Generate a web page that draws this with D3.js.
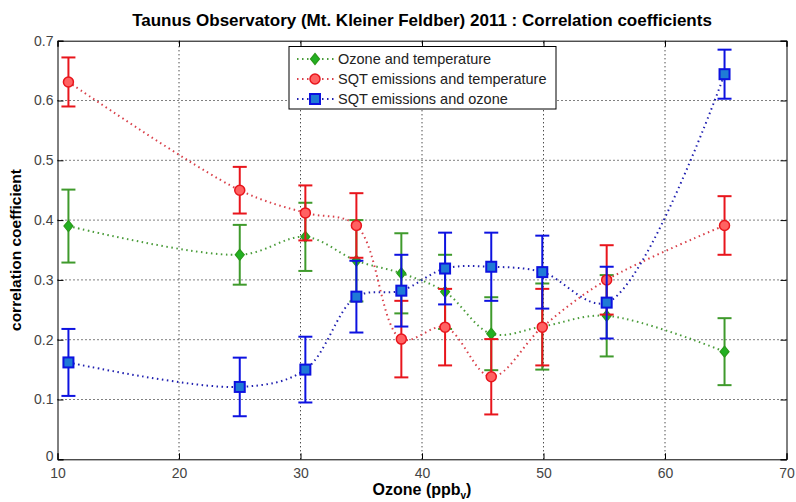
<!DOCTYPE html>
<html>
<head>
<meta charset="utf-8">
<script src="https://cdn.jsdelivr.net/npm/d3@7"></script>
<style>
  body { margin: 0; background: #fff; }
  text { font-family: Arial, "Liberation Sans", sans-serif; }
</style>
</head>
<body>
<script>
// data
var ozone = [10.9, 25.0, 30.4, 34.6, 38.3, 41.9, 45.7, 49.9, 55.2, 64.9];

var ozTemp    = [0.390, 0.342, 0.372, 0.332, 0.311, 0.280, 0.210, 0.222, 0.240, 0.180];
var ozTempErr = [0.061, 0.050, 0.057, 0.068, 0.067, 0.062, 0.061, 0.072, 0.068, 0.056];

var sqtTemp    = [0.631, 0.450, 0.412, 0.391, 0.201, 0.221, 0.138, 0.221, 0.300, 0.391];
var sqtTempErr = [0.041, 0.039, 0.046, 0.054, 0.064, 0.064, 0.063, 0.064, 0.058, 0.049];

var sqtOz    = [0.162, 0.121, 0.150, 0.272, 0.282, 0.319, 0.322, 0.313, 0.262, 0.644];
var sqtOzErr = [0.056, 0.049, 0.055, 0.060, 0.060, 0.060, 0.057, 0.061, 0.060, 0.041];

var xTicks = [10, 20, 30, 40, 50, 60, 70];
var yTicks = [0, 0.1, 0.2, 0.3, 0.4, 0.5, 0.6, 0.7];

var seriesNames = ["Ozone and temperature", "SQT emissions and temperature", "SQT emissions and ozone"];

var series = [
  { name: seriesNames[0], y: ozTemp, err: ozTempErr, line: "#4a9c3a", bar: "#3f9a2c", fill: "#22b022", edge: "#2a9a1a", marker: "diamond" },
  { name: seriesNames[1], y: sqtTemp, err: sqtTempErr, line: "#d9404a", bar: "#e8151c", fill: "#ff6262", edge: "#e8151c", marker: "circle" },
  { name: seriesNames[2], y: sqtOz, err: sqtOzErr, line: "#2020b0", bar: "#0d12e0", fill: "#1f7ad6", edge: "#0d12e0", marker: "square" }
];

var W = 796, H = 502;
var svg = d3.select("body").append("svg").attr("width", W).attr("height", H);

var x = d3.scaleLinear().domain([10, 70]).range([57.5, 786.5]);
var y = d3.scaleLinear().domain([0, 0.7]).range([459.3, 40.7]);

var g = svg.append("g");

// grid
g.selectAll(".gx").data(xTicks.slice(1, -1)).enter().append("line")
  .attr("x1", function(d) { return x(d); }).attr("x2", function(d) { return x(d); })
  .attr("y1", y(0)).attr("y2", y(0.7))
  .attr("stroke", "#000").attr("stroke-width", 1).attr("stroke-dasharray", "1,3");
g.selectAll(".gy").data(yTicks.slice(1, -1)).enter().append("line")
  .attr("x1", x(10)).attr("x2", x(70))
  .attr("y1", function(d) { return y(d); }).attr("y2", function(d) { return y(d); })
  .attr("stroke", "#000").attr("stroke-width", 1).attr("stroke-dasharray", "1,3");

// axes (ticks inside)
var xAxis = d3.axisBottom(x).tickValues(xTicks).tickSize(-6).tickPadding(8.5).tickFormat(d3.format("d"));
var yAxis = d3.axisLeft(y).tickValues(yTicks).tickSize(-6).tickPadding(4).tickFormat(function(d) { return d === 0 ? "0" : d3.format(".1f")(d); });
var xTop = d3.axisTop(x).tickValues(xTicks).tickSize(-6).tickFormat("");
var yRight = d3.axisRight(y).tickValues(yTicks).tickSize(-6).tickFormat("");

function styleAxis(sel) {
  sel.select(".domain").attr("stroke", "#000");
  sel.selectAll(".tick line").attr("stroke", "#000");
  sel.selectAll("text").attr("fill", "#444").style("font-size", "14px").style("font-family", "Arial, 'Liberation Sans', sans-serif");
}
g.append("g").attr("transform", "translate(0," + y(0) + ")").call(xAxis).call(styleAxis);
var ya = g.append("g").attr("transform", "translate(" + x(10) + ",0)").call(yAxis).call(styleAxis);
// the "0" label sits a little higher, as in the reference
ya.selectAll(".tick text").filter(function(d) { return d === 0; }).attr("dy", "0.1em");
g.append("g").attr("transform", "translate(0," + y(0.7) + ")").call(xTop).call(styleAxis);
g.append("g").attr("transform", "translate(" + x(70) + ",0)").call(yRight).call(styleAxis);

function drawMarker(sel, type, s) {
  if (type === "diamond") {
    sel.append("path").attr("d", "M0,-5.5L4.5,0L0,5.5L-4.5,0Z")
      .attr("fill", s.fill).attr("stroke", s.edge).attr("stroke-width", 1.2);
  } else if (type === "circle") {
    sel.append("circle").attr("r", 5)
      .attr("fill", s.fill).attr("stroke", s.edge).attr("stroke-width", 1.5);
  } else {
    sel.append("rect").attr("x", -5).attr("y", -5).attr("width", 10).attr("height", 10)
      .attr("fill", s.fill).attr("stroke", s.edge).attr("stroke-width", 2);
  }
}

var line = d3.line()
  .x(function(d) { return x(d[0]); })
  .y(function(d) { return y(d[1]); })
  .curve(d3.curveCatmullRom.alpha(0.5));

var cap = 7;
series.forEach(function(s) {
  var pts = ozone.map(function(v, i) { return [v, s.y[i], s.err[i]]; });
  var sg = g.append("g");
  sg.append("path").datum(pts).attr("d", line)
    .attr("fill", "none").attr("stroke", s.line).attr("stroke-width", 2)
    .attr("stroke-dasharray", "1.5,3.5");
  var eb = sg.selectAll(".eb").data(pts).enter().append("g");
  eb.append("line")
    .attr("x1", function(d) { return x(d[0]); }).attr("x2", function(d) { return x(d[0]); })
    .attr("y1", function(d) { return y(d[1] - d[2]); }).attr("y2", function(d) { return y(d[1] + d[2]); })
    .attr("stroke", s.bar).attr("stroke-width", 2);
  [-1, 1].forEach(function(sign) {
    eb.append("line")
      .attr("x1", function(d) { return x(d[0]) - cap; }).attr("x2", function(d) { return x(d[0]) + cap; })
      .attr("y1", function(d) { return y(d[1] + sign * d[2]); }).attr("y2", function(d) { return y(d[1] + sign * d[2]); })
      .attr("stroke", s.bar).attr("stroke-width", 2);
  });
  sg.selectAll(".mk").data(pts).enter().append("g")
    .attr("transform", function(d) { return "translate(" + x(d[0]) + "," + y(d[1]) + ")"; })
    .each(function() { drawMarker(d3.select(this), s.marker, s); });
});

// legend
var lg = svg.append("g").attr("transform", "translate(289,46.5)");
lg.append("rect").attr("width", 267).attr("height", 62.5)
  .attr("fill", "#fff").attr("stroke", "#000").attr("stroke-width", 1);
series.forEach(function(s, i) {
  var ly = 12.5 + i * 20;
  lg.append("line").attr("x1", 8).attr("x2", 46).attr("y1", ly).attr("y2", ly)
    .attr("stroke", s.line).attr("stroke-width", 2).attr("stroke-dasharray", "1.5,3.5");
  var m = lg.append("g").attr("transform", "translate(26," + ly + ")");
  drawMarker(m, s.marker, s);
  lg.append("text").attr("x", 49).attr("y", ly).attr("dy", "0.35em")
    .style("font-size", "14.5px").attr("fill", "#222").text(s.name);
});

// title and labels
svg.append("text").attr("x", 422).attr("y", 26).attr("text-anchor", "middle")
  .style("font-size", "17px").style("font-weight", "bold")
  .text("Taunus Observatory (Mt. Kleiner Feldber) 2011 : Correlation coefficients");

var xl = svg.append("text").attr("x", 422).attr("y", 495).attr("text-anchor", "middle")
  .style("font-size", "16px").style("font-weight", "bold");
xl.append("tspan").text("Ozone (ppb");
xl.append("tspan").attr("dy", 4).style("font-size", "10px").text("v");
xl.append("tspan").attr("dy", -4).text(")");

svg.append("text").attr("transform", "translate(21," + y(0.35) + ") rotate(-90)")
  .attr("text-anchor", "middle")
  .style("font-size", "15.5px").style("font-weight", "bold")
  .text("correlation coefficient");
</script>
</body>
</html>
